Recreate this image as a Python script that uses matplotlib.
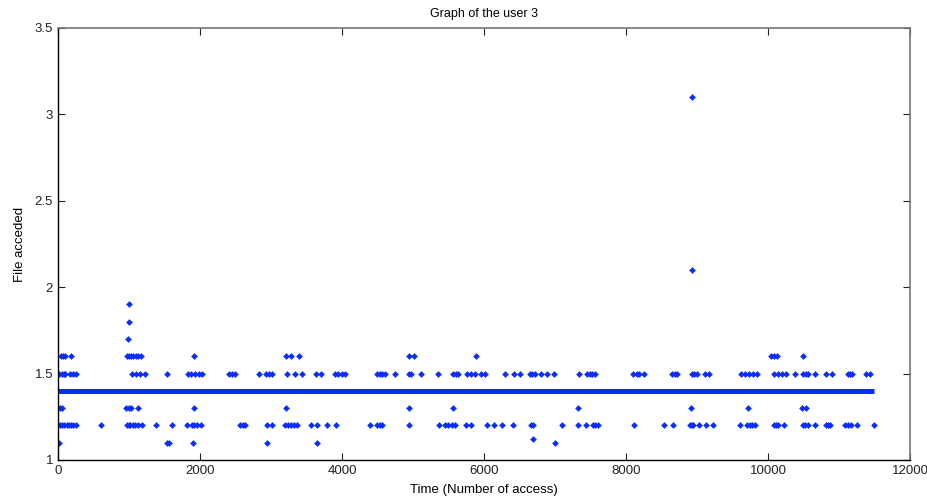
import matplotlib
matplotlib.use('Agg')
import numpy as np
import matplotlib.pyplot as plt

plt.rcParams['font.family'] = ['Liberation Sans', 'DejaVu Sans']

# dense run of accesses to file 1.4 (start, end of the band)
band_level = 1.4
band_start = 0
band_end = 11500

# scattered accesses, grouped by file level
x_110 = [10, 1540, 1560, 1900, 2940, 3650, 7000]
x_112 = [6690]
x_120 = [0, 30, 60, 90, 120, 150, 180, 210, 260, 610,
         970, 1000, 1020, 1050, 1080, 1130, 1180, 1380, 1600, 1820,
         1890, 1920, 1960, 2020, 2560, 2600, 2630, 2940, 3010,
         3200, 3240, 3280, 3330, 3370, 3570, 3650, 3790, 3910, 4390,
         4490, 4530, 4560, 4940, 5370, 5450, 5500, 5550, 5590,
         5740, 5810, 6040, 6140, 6260, 6410, 6660, 6690, 7100, 7320,
         7440, 7530, 7570, 7600, 8110, 8540, 8660, 8900, 8930, 8950,
         9030, 9130, 9230, 9600, 9700, 9740, 9780, 9810,
         10080, 10110, 10140, 10220, 10490, 10520, 10560, 10660,
         10810, 10840, 10870, 11080, 11120, 11170, 11260, 11490]
x_130 = [0, 30, 60, 960, 1000, 1030, 1130, 1915, 3205, 4940, 5570,
         7320, 8910, 9720, 10480, 10530]
x_150 = [20, 50, 80, 100, 170, 210, 250, 1040, 1100, 1150, 1230, 1540,
         1830, 1880, 1930, 1980, 2030, 2410, 2450, 2490, 2830,
         2930, 2970, 3010, 3220, 3340, 3430, 3630, 3700,
         3900, 3950, 4000, 4040, 4490, 4530, 4570, 4600, 4740,
         4940, 4970, 5110, 5350, 5560, 5600, 5630,
         5760, 5820, 5880, 5960, 6010, 6300, 6420, 6510,
         6650, 6680, 6720, 6800, 6890, 6990, 7340,
         7450, 7490, 7520, 7560, 8100, 8150, 8190, 8250,
         8650, 8690, 8720, 8930, 8960, 9000, 9110, 9170,
         9620, 9670, 9730, 9790, 9840, 10080, 10140, 10200, 10260,
         10380, 10500, 10540, 10570, 10660, 10810, 10900,
         11120, 11150, 11180, 11380, 11430]
x_160 = [40, 70, 100, 190, 970, 1000, 1030, 1060, 1100, 1130, 1170,
         1915, 3205, 3280, 3390, 4940, 5010, 5890,
         10040, 10080, 10120, 10500]
x_170 = [980]
x_180 = [1000]
x_190 = [1000]
x_210 = [8930]
x_310 = [8930]

levels = [1.1, 1.12, 1.2, 1.3, 1.5, 1.6, 1.7, 1.8, 1.9, 2.1, 3.1]
groups = [x_110, x_112, x_120, x_130, x_150, x_160, x_170, x_180,
          x_190, x_210, x_310]

xs = []
ys = []
for lvl, g in zip(levels, groups):
    xs += g
    ys += [lvl] * len(g)

blue = '#0a2dff'

fig = plt.figure(figsize=(9.28, 4.99), dpi=100)
ax = fig.add_axes([58 / 928, 1 - 460 / 499, 852 / 928, 432 / 499])

ax.hlines(band_level, band_start, band_end, colors=blue, lw=3.6)
ax.plot(xs, ys, linestyle='none', marker='D', ms=3.0, mec=blue, mfc=blue, mew=0.4)

ax.set_xlim(0, 12000)
ax.set_ylim(1, 3.5)
ax.set_xticks(np.arange(0, 12001, 2000))
ax.set_yticks([1, 1.5, 2, 2.5, 3, 3.5])
ax.set_yticklabels(['1', '1.5', '2', '2.5', '3', '3.5'])
ax.tick_params(direction='in', top=True, right=True, length=5, width=0.8,
               labelsize=9.5, colors='#222222')
for side in ['top', 'right']:
    ax.spines[side].set_color('#777777')
    ax.spines[side].set_linewidth(1.2)
for side in ['left', 'bottom']:
    ax.spines[side].set_color('black')
    ax.spines[side].set_linewidth(1.0)

ax.set_title('Graph of the user 3', fontsize=9, pad=8)
ax.set_xlabel('Time (Number of access)', fontsize=9.5, labelpad=5)
ax.set_ylabel('File acceded', fontsize=9.5, labelpad=6)

fig.savefig('out.png', dpi=100)
